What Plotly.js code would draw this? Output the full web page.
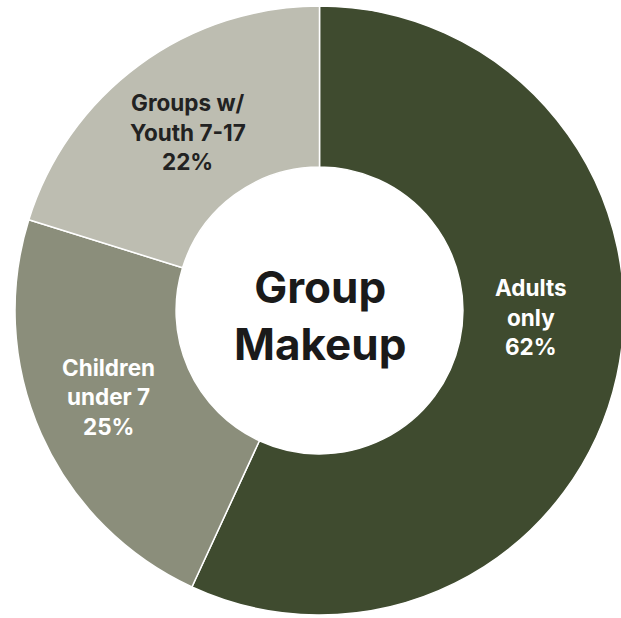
<!DOCTYPE html>
<html><head><meta charset="utf-8">
<script src="https://cdn.plot.ly/plotly-3.0.1.min.js"></script>
<style>html,body{margin:0;padding:0;overflow:hidden;background:#fff;}</style>
</head><body>
<div id="chart" style="width:640px;height:640px;"></div>
<script>
const categories = ["Adults only", "Children under 7", "Groups w/ Youth 7-17"];
const labelLines = [["Adults", "only"], ["Children", "under 7"], ["Groups w/", "Youth 7-17"]];
const values = [62, 25, 22];
const colors = ["#3f4b2f", "#8b8e7b", "#bdbdb1"];
const textColors = ["#ffffff", "#ffffff", "#222222"];
const centerTitle = "Group<br>Makeup";

// layout / style settings (not data)
const style = {
  W: 640, H: 640, cx: 319.5, cy: 310.5, R: 304.5, hole: 0.471,
  font: "Inter, 'Open Sans', sans-serif",
  labelSize: 22.5, lineGap: 29.5, titleSize: 44, titleShift: 5,
  labelAngleAdjust: [-10.6, 1.7, -0.1],   // degrees
  labelRadiusAdjust: [-12.4, 4.5, -2.3]   // pixels
};

const {W, H, cx, cy, R, hole} = style;
const trace = {
  type: "pie",
  labels: categories,
  values: values,
  textinfo: "none",
  hole: hole,
  sort: false,
  direction: "clockwise",
  rotation: 0,
  marker: {colors: colors, line: {color: "#ffffff", width: 1.5}},
  domain: {x: [(cx - R) / W, (cx + R) / W], y: [(H - cy - R) / H, (H - cy + R) / H]},
  hoverinfo: "none"
};

// slice label annotations, positioned from the slice angles derived from values
const total = values.reduce((a, b) => a + b, 0);
const annotations = [{
  xref: "paper", yref: "paper", x: cx / W, y: (H - cy - style.titleShift) / H,
  text: centerTitle, showarrow: false, xanchor: "center", yanchor: "middle",
  font: {family: style.font, size: style.titleSize, color: "#1a1a1a", weight: 700}
}];
let cum = 0;
values.forEach((v, i) => {
  const mid = (cum + v / 2) / total * 360 + style.labelAngleAdjust[i];
  cum += v;
  const r = R * (1 + hole) / 2 + style.labelRadiusAdjust[i];
  const a = mid * Math.PI / 180;
  const px = cx + r * Math.sin(a);
  const py = cy - r * Math.cos(a);
  const lines = labelLines[i].concat([v + "%"]);
  lines.forEach((t, j) => {
    const off = (j - (lines.length - 1) / 2) * style.lineGap;
    annotations.push({
      xref: "paper", yref: "paper", x: px / W, y: (H - py - off) / H,
      text: t, showarrow: false, xanchor: "center", yanchor: "middle",
      font: {family: style.font, size: style.labelSize, color: textColors[i], weight: 700}
    });
  });
});

Plotly.newPlot("chart", [trace], {
  width: W, height: H, margin: {l: 0, r: 0, t: 0, b: 0},
  showlegend: false, paper_bgcolor: "#ffffff", annotations: annotations
}, {displayModeBar: false, staticPlot: true});
</script>
</body></html>
